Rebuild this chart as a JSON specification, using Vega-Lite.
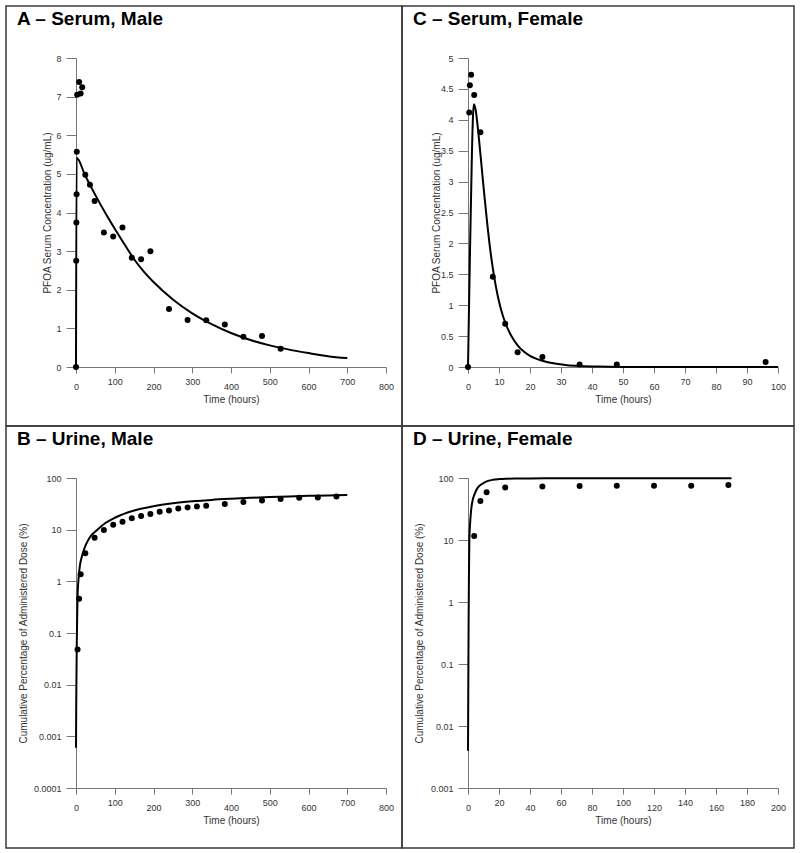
{
  "$schema": "https://vega.github.io/schema/vega-lite/v6.json",
  "padding": {"left": 5, "top": 5, "right": 7, "bottom": 6},
  "autosize": {"type": "pad"},
  "spacing": 0,
  "bounds": "flush",
  "columns": 2,
  "datasets": {
    "A_obs": [
      {"t": 0, "v": 0}, {"t": 0.5, "v": 2.75}, {"t": 1, "v": 3.74}, {"t": 1.5, "v": 4.47}, {"t": 2, "v": 5.57},
      {"t": 3, "v": 7.05}, {"t": 8, "v": 7.38}, {"t": 12, "v": 7.08}, {"t": 16, "v": 7.24}, {"t": 24, "v": 4.98},
      {"t": 36, "v": 4.72}, {"t": 48, "v": 4.3}, {"t": 72, "v": 3.48}, {"t": 96, "v": 3.38}, {"t": 120, "v": 3.61},
      {"t": 144, "v": 2.83}, {"t": 168, "v": 2.79}, {"t": 192, "v": 3.0}, {"t": 240, "v": 1.5}, {"t": 288, "v": 1.22},
      {"t": 336, "v": 1.21}, {"t": 384, "v": 1.1}, {"t": 432, "v": 0.78}, {"t": 480, "v": 0.8}, {"t": 528, "v": 0.47}
    ],
    "A_model": [
      {"t": 0, "v": 0}, {"t": 1.5, "v": 5.42}, {"t": 24, "v": 4.95}, {"t": 50, "v": 4.45}, {"t": 75, "v": 4.0},
      {"t": 100, "v": 3.58}, {"t": 125, "v": 3.18}, {"t": 150, "v": 2.79}, {"t": 175, "v": 2.47}, {"t": 200, "v": 2.2},
      {"t": 250, "v": 1.75}, {"t": 300, "v": 1.39}, {"t": 350, "v": 1.11}, {"t": 400, "v": 0.88}, {"t": 450, "v": 0.7},
      {"t": 500, "v": 0.56}, {"t": 550, "v": 0.45}, {"t": 600, "v": 0.36}, {"t": 650, "v": 0.28}, {"t": 700, "v": 0.23}
    ],
    "C_obs": [
      {"t": 0, "v": 0}, {"t": 0.4, "v": 4.12}, {"t": 0.6, "v": 4.56}, {"t": 1, "v": 4.73}, {"t": 2, "v": 4.4},
      {"t": 4, "v": 3.8}, {"t": 8, "v": 1.46}, {"t": 12, "v": 0.7}, {"t": 16, "v": 0.24}, {"t": 24, "v": 0.16},
      {"t": 36, "v": 0.04}, {"t": 48, "v": 0.04}, {"t": 96, "v": 0.08}
    ],
    "C_model": [
      {"t": 0, "v": 0}, {"t": 0.6, "v": 1.75}, {"t": 1.2, "v": 3.3}, {"t": 1.6, "v": 4.05}, {"t": 1.9, "v": 4.25},
      {"t": 2.5, "v": 4.15}, {"t": 3, "v": 3.95}, {"t": 4, "v": 3.45}, {"t": 5, "v": 2.92}, {"t": 6, "v": 2.42},
      {"t": 7, "v": 1.97}, {"t": 8, "v": 1.6}, {"t": 9, "v": 1.3}, {"t": 10, "v": 1.06}, {"t": 11, "v": 0.87},
      {"t": 12, "v": 0.72}, {"t": 13, "v": 0.6}, {"t": 14, "v": 0.5}, {"t": 16, "v": 0.35}, {"t": 18, "v": 0.25},
      {"t": 20, "v": 0.18}, {"t": 24, "v": 0.1}, {"t": 28, "v": 0.055}, {"t": 32, "v": 0.03}, {"t": 36, "v": 0.017},
      {"t": 42, "v": 0.007}, {"t": 50, "v": 0.002}, {"t": 60, "v": 0.0005}, {"t": 100, "v": 0}
    ],
    "B_obs": [
      {"t": 4, "v": 0.048}, {"t": 8, "v": 0.46}, {"t": 12, "v": 1.37}, {"t": 24, "v": 3.5}, {"t": 48, "v": 6.95},
      {"t": 72, "v": 9.8}, {"t": 96, "v": 12.4}, {"t": 120, "v": 14.2}, {"t": 144, "v": 16.7}, {"t": 168, "v": 18.3},
      {"t": 192, "v": 20.0}, {"t": 216, "v": 22.2}, {"t": 240, "v": 23.5}, {"t": 264, "v": 25.7}, {"t": 288, "v": 26.9},
      {"t": 312, "v": 28.1}, {"t": 336, "v": 29.0}, {"t": 384, "v": 31.3}, {"t": 432, "v": 34.2}, {"t": 480, "v": 36.7},
      {"t": 528, "v": 39.1}, {"t": 576, "v": 41.5}, {"t": 624, "v": 42.1}, {"t": 672, "v": 44.0}
    ],
    "B_model": [
      {"t": 0, "v": 0.0006}, {"t": 0.5, "v": 0.003}, {"t": 1, "v": 0.01}, {"t": 2, "v": 0.06}, {"t": 3, "v": 0.2},
      {"t": 4, "v": 0.5}, {"t": 6, "v": 1.0}, {"t": 8, "v": 1.5}, {"t": 10, "v": 2.0}, {"t": 15, "v": 3.0},
      {"t": 20, "v": 4.0}, {"t": 25, "v": 5.0}, {"t": 30, "v": 6.0}, {"t": 40, "v": 7.8}, {"t": 50, "v": 9.2},
      {"t": 75, "v": 13.3}, {"t": 100, "v": 17.0}, {"t": 150, "v": 23.5}, {"t": 200, "v": 28.5}, {"t": 250, "v": 32.3},
      {"t": 300, "v": 35.3}, {"t": 350, "v": 37.7}, {"t": 400, "v": 39.6}, {"t": 450, "v": 41.3}, {"t": 500, "v": 42.8},
      {"t": 550, "v": 44.0}, {"t": 600, "v": 45.1}, {"t": 650, "v": 46.0}, {"t": 700, "v": 46.8}
    ],
    "D_obs": [
      {"t": 4, "v": 11.6}, {"t": 8, "v": 42.5}, {"t": 12, "v": 59}, {"t": 24, "v": 70.5}, {"t": 48, "v": 73},
      {"t": 72, "v": 74.3}, {"t": 96, "v": 75.2}, {"t": 120, "v": 75.2}, {"t": 144, "v": 75.2}, {"t": 168, "v": 77}
    ],
    "D_model": [
      {"t": 0, "v": 0.004}, {"t": 0.2, "v": 0.05}, {"t": 0.4, "v": 0.5}, {"t": 0.6, "v": 2.5}, {"t": 0.86, "v": 10},
      {"t": 1.5, "v": 21}, {"t": 2.1, "v": 31.6}, {"t": 3, "v": 44}, {"t": 4, "v": 53}, {"t": 4.7, "v": 58.6},
      {"t": 6, "v": 68}, {"t": 8, "v": 77}, {"t": 10, "v": 83}, {"t": 12, "v": 88}, {"t": 16, "v": 93.5},
      {"t": 20, "v": 96}, {"t": 25, "v": 97.5}, {"t": 30, "v": 98.2}, {"t": 40, "v": 98.6}, {"t": 60, "v": 98.7},
      {"t": 100, "v": 98.7}, {"t": 170, "v": 98.7}
    ]
  },
  "concat": [
    {
      "width": 396, "height": 420,
      "title": {"text": "A – Serum, Male"},
      "encoding": {
        "x": {"field": "t", "type": "quantitative",
          "scale": {"domain": [0, 800], "range": [70, 380], "nice": false, "zero": false},
          "axis": {"values": [0, 100, 200, 300, 400, 500, 600, 700, 800], "format": "d", "title": "Time (hours)",
            "offset": -59, "tickSize": 6, "labelBaseline": "top",
            "labelPadding": {"expr": "datum.value % 200 == 0 ? 9 : 4"},
            "titleX": 225, "titleY": 32, "titleBaseline": "middle", "titleAlign": "center"}},
        "y": {"field": "v", "type": "quantitative",
          "scale": {"domain": [0, 8], "range": [361, 52], "nice": false, "zero": false},
          "axis": {"values": [0, 1, 2, 3, 4, 5, 6, 7, 8], "format": "d", "title": "PFOA Serum Concentration (ug/mL)",
            "offset": -70, "tickSize": 10, "labelPadding": 5,
            "titleX": -29, "titleY": 206.5, "titleAngle": -90, "titleBaseline": "middle", "titleAlign": "center"}}
      },
      "layer": [
        {"data": {"name": "A_model"}, "mark": {"type": "line", "color": "#000", "strokeWidth": 2, "interpolate": "monotone"}, "encoding": {}},
        {"data": {"name": "A_obs"}, "mark": {"type": "point", "filled": true, "color": "#000", "size": 36, "opacity": 1}}
      ]
    },
    {
      "width": 392, "height": 420,
      "title": {"text": "C – Serum, Female"},
      "encoding": {
        "x": {"field": "t", "type": "quantitative",
          "scale": {"domain": [0, 100], "range": [66, 376], "nice": false, "zero": false},
          "axis": {"values": [0, 10, 20, 30, 40, 50, 60, 70, 80, 90, 100], "format": "d", "title": "Time (hours)",
            "offset": -59, "tickSize": 6, "labelBaseline": "top",
            "labelPadding": {"expr": "datum.value % 20 == 0 ? 9 : 4"},
            "titleX": 221, "titleY": 32, "titleBaseline": "middle", "titleAlign": "center"}},
        "y": {"field": "v", "type": "quantitative",
          "scale": {"domain": [0, 5], "range": [361, 52], "nice": false, "zero": false},
          "axis": {"values": [0, 0.5, 1, 1.5, 2, 2.5, 3, 3.5, 4, 4.5, 5], "format": ".1~f", "title": "PFOA Serum Concentration (ug/mL)",
            "offset": -66, "tickSize": 10, "labelPadding": 5,
            "titleX": -32, "titleY": 206.5, "titleAngle": -90, "titleBaseline": "middle", "titleAlign": "center"}}
      },
      "layer": [
        {"data": {"name": "C_model"}, "mark": {"type": "line", "color": "#000", "strokeWidth": 2, "interpolate": "monotone"}, "encoding": {}},
        {"data": {"name": "C_obs"}, "mark": {"type": "point", "filled": true, "color": "#000", "size": 36, "opacity": 1}}
      ]
    },
    {
      "width": 396, "height": 422,
      "title": {"text": "B – Urine, Male"},
      "encoding": {
        "x": {"field": "t", "type": "quantitative",
          "scale": {"domain": [0, 800], "range": [70, 380], "nice": false, "zero": false},
          "axis": {"values": [0, 100, 200, 300, 400, 500, 600, 700, 800], "format": "d", "title": "Time (hours)",
            "offset": -60, "tickSize": 6, "labelBaseline": "top",
            "labelPadding": {"expr": "datum.value % 200 == 0 ? 9 : 4"},
            "titleX": 225, "titleY": 32, "titleBaseline": "middle", "titleAlign": "center"}},
        "y": {"field": "v", "type": "quantitative",
          "scale": {"type": "log", "domain": [0.0001, 100], "range": [362, 52], "nice": false},
          "axis": {"values": [0.0001, 0.001, 0.01, 0.1, 1, 10, 100], "format": ".4~f", "title": "Cumulative Percentage of Administered Dose (%)",
            "offset": -70, "tickSize": 10, "labelPadding": 5,
            "titleX": -53, "titleY": 207, "titleAngle": -90, "titleBaseline": "middle", "titleAlign": "center"}}
      },
      "layer": [
        {"data": {"name": "B_model"}, "mark": {"type": "line", "color": "#000", "strokeWidth": 2, "interpolate": "monotone"}, "encoding": {}},
        {"data": {"name": "B_obs"}, "mark": {"type": "point", "filled": true, "color": "#000", "size": 36, "opacity": 1}}
      ]
    },
    {
      "width": 392, "height": 422,
      "title": {"text": "D – Urine, Female"},
      "encoding": {
        "x": {"field": "t", "type": "quantitative",
          "scale": {"domain": [0, 200], "range": [66, 376], "nice": false, "zero": false},
          "axis": {"values": [0, 20, 40, 60, 80, 100, 120, 140, 160, 180, 200], "format": "d", "title": "Time (hours)",
            "offset": -60, "tickSize": 6, "labelBaseline": "top",
            "labelPadding": {"expr": "datum.value % 40 == 0 ? 9 : 4"},
            "titleX": 221, "titleY": 32, "titleBaseline": "middle", "titleAlign": "center"}},
        "y": {"field": "v", "type": "quantitative",
          "scale": {"type": "log", "domain": [0.001, 100], "range": [362, 52], "nice": false},
          "axis": {"values": [0.001, 0.01, 0.1, 1, 10, 100], "format": ".3~f", "title": "Cumulative Percentage of Administered Dose (%)",
            "offset": -66, "tickSize": 10, "labelPadding": 5,
            "titleX": -49, "titleY": 207, "titleAngle": -90, "titleBaseline": "middle", "titleAlign": "center"}}
      },
      "layer": [
        {"data": {"name": "D_model"}, "mark": {"type": "line", "color": "#000", "strokeWidth": 2, "interpolate": "monotone"}, "encoding": {}},
        {"data": {"name": "D_obs"}, "mark": {"type": "point", "filled": true, "color": "#000", "size": 36, "opacity": 1}}
      ]
    }
  ],
  "config": {
    "font": "Liberation Sans",
    "view": {"stroke": "#3a3a3a", "strokeWidth": 1.5},
    "axis": {"grid": false, "domainColor": "#777", "tickColor": "#777", "labelColor": "#333", "titleColor": "#333",
      "labelFontSize": 9, "titleFontSize": 10, "titleFontWeight": "normal", "labelFlush": false, "labelOverlap": false,
      "domainWidth": 1, "tickWidth": 1, "labelFont": "Liberation Sans", "titleFont": "Liberation Sans"},
    "title": {"fontSize": 19, "fontWeight": "bold", "color": "#000", "anchor": "start", "frame": "group",
      "offset": -23, "dx": 11, "baseline": "alphabetic", "font": "Liberation Sans"}
  }
}
